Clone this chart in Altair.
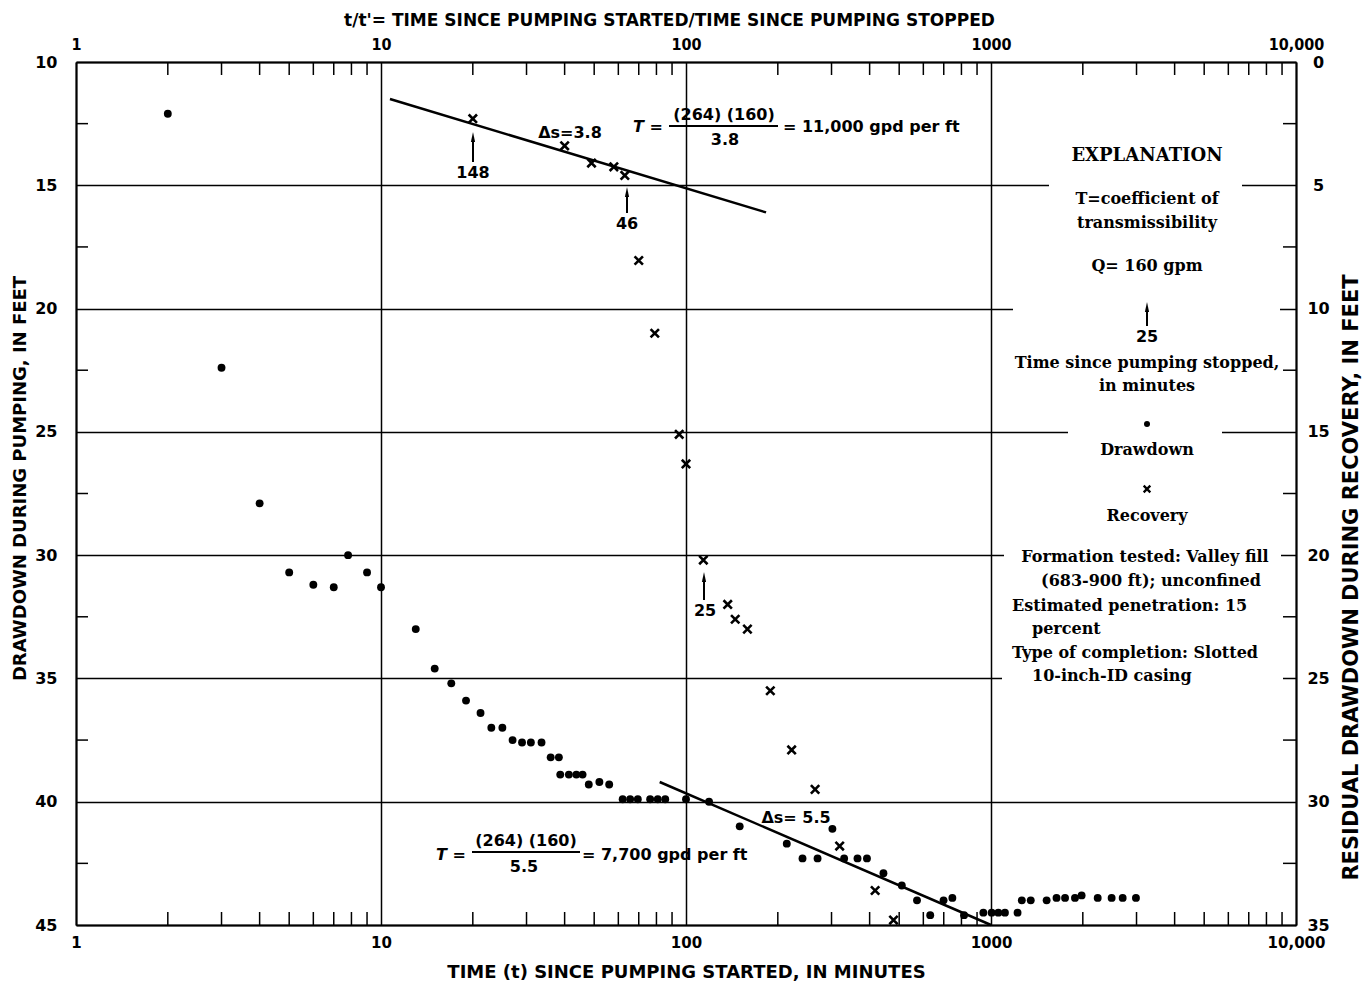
import altair as alt
import pandas as pd

# ---------------- values ----------------
# Drawdown during pumping: time since pumping started (minutes) / drawdown (feet)
dd_time = [2, 3, 4, 5, 6, 7, 7.8, 9, 10,
           13, 15, 17, 19, 21.2, 23, 25, 27, 29, 31, 33.6, 36, 38.3,
           38.7, 41.3, 43.7, 45.8, 48, 52, 56,
           62, 65.6, 69.5, 76.3, 80.8, 85.5, 100, 119, 150,
           214, 241, 270, 302, 330, 365, 392, 444, 510, 572, 632, 699, 747, 816,
           944, 1005, 1057, 1111, 1222, 1262, 1350, 1522, 1640, 1749, 1885, 1982,
           2238, 2486, 2702, 2987]
dd_feet = [12.1, 22.4, 27.9, 30.7, 31.2, 31.3, 30.0, 30.7, 31.3,
           33.0, 34.6, 35.2, 35.9, 36.4, 37.0, 37.0, 37.5, 37.6, 37.6, 37.6, 38.2, 38.2,
           38.9, 38.9, 38.9, 38.9, 39.3, 39.2, 39.3,
           39.9, 39.9, 39.9, 39.9, 39.9, 39.9, 39.9, 40.0, 41.0,
           41.7, 42.3, 42.3, 41.1, 42.3, 42.3, 42.3, 42.9, 43.4, 44.0, 44.6, 44.0, 43.9, 44.6,
           44.5, 44.5, 44.5, 44.5, 44.5, 44.0, 44.0, 44.0, 43.9, 43.9, 43.9, 43.8,
           43.9, 43.9, 43.9, 43.9]

# Recovery: t/t' and residual drawdown (feet)
rec_ratio = [20, 40, 49, 58, 63, 70, 79, 95, 100, 114, 137, 145, 159, 189, 222, 265, 319, 417, 479]
rec_feet = [2.3, 3.4, 4.1, 4.25, 4.6, 8.05, 11.0, 15.1, 16.3, 20.2, 22.0, 22.6, 23.0,
            25.5, 27.9, 29.5, 31.8, 33.6, 34.8]

# Straight-line fits drawn on the figure (end points)
fit_rec_ratio = [10.7, 183]
fit_rec_feet = [1.5, 6.1]
fit_dd_time = [82, 1000]
fit_dd_feet = [39.2, 45.0]

# Axis ticks
x_ticks = [1, 10, 100, 1000, 10000]
x_tick_labels = ["1", "10", "100", "1000", "10,000"]
x_minor = [m * 10 ** k for k in range(4) for m in range(2, 10)]
left_ticks = [10, 15, 20, 25, 30, 35, 40, 45]
left_minor = [12.5, 17.5, 22.5, 27.5, 32.5, 37.5, 42.5]
right_ticks = [0, 5, 10, 15, 20, 25, 30, 35]
right_minor = [2.5, 7.5, 12.5, 17.5, 22.5, 27.5, 32.5]

# ---------------- styling / layout ----------------
W, H = 1220, 863
SANS = "DejaVu Sans"
SANS_C = "DejaVu Sans Condensed, DejaVu Sans"
SERIF = "DejaVu Serif"
XPATH = "M-1,-1L1,1M-1,1L1,-1"
HEAD = "M0,-1L0.42,1L-0.42,1Z"

X_SCALE = alt.Scale(type="log", domain=[1, 10000], nice=False)
DD_SCALE = alt.Scale(domain=[10, 45], reverse=True, nice=False, zero=False)
RES_SCALE = alt.Scale(domain=[0, 35], reverse=True, nice=False, zero=False)

label_expr = "".join(f"datum.value == {v} ? '{l}' : " for v, l in zip(x_ticks, x_tick_labels)) + "''"

common_axis = dict(ticks=False, domainColor="black", domainWidth=2,
                   labelColor="black", labelFontWeight="bold", labelFlush=False,
                   labelOverlap=False, titleColor="black", titleFontWeight="bold")

ax_bottom = alt.Axis(orient="bottom", values=x_ticks, labelExpr=label_expr,
                     title="TIME (t) SINCE PUMPING STARTED, IN MINUTES",
                     grid=True, gridColor="black", gridWidth=1.5, gridOpacity=1,
                     labelFont=SANS, labelFontSize=15, labelPadding=17, labelBaseline="middle",
                     titleFont=SANS, titleFontSize=18, titleX=610, titleY=47,
                     titleBaseline="middle", titleAlign="center", **common_axis)
ax_top = alt.Axis(orient="top", values=x_ticks, labelExpr=label_expr,
                  title="t/t'= TIME SINCE PUMPING STARTED/TIME SINCE PUMPING STOPPED",
                  grid=False, labelFont=SANS_C, labelFontSize=16, labelPadding=18,
                  labelBaseline="middle", titleFont=SANS, titleFontSize=17,
                  titleX=593, titleY=-42, titleBaseline="middle", titleAlign="center", **common_axis)
ax_left = alt.Axis(orient="left", values=left_ticks, format="d",
                   title="DRAWDOWN DURING PUMPING, IN FEET",
                   grid=True, gridColor="black", gridWidth=1.5, gridOpacity=1,
                   labelFont=SANS, labelFontSize=16, labelPadding=19, labelBaseline="middle",
                   labelAlign="right", titleFont=SANS, titleFontSize=18, titleAngle=270,
                   titleX=-56, titleY=416, titleBaseline="middle", titleAlign="center", **common_axis)
ax_right = alt.Axis(orient="right", values=right_ticks, format="d",
                    title="RESIDUAL DRAWDOWN DURING RECOVERY, IN FEET",
                    grid=False, labelFont=SANS, labelFontSize=16, labelPadding=22,
                    labelBaseline="middle", labelAlign="center",
                    titleFont=SANS, titleFontSize=21, titleAngle=270,
                    titleX=55, titleY=515, titleBaseline="middle", titleAlign="center", **common_axis)

# ---------------- data tables ----------------
dd_df = pd.DataFrame({"t": dd_time, "d": dd_feet})
rec_df = pd.DataFrame({"ratio": rec_ratio, "r": rec_feet})
fit_dd_df = pd.DataFrame({"t": fit_dd_time, "d": fit_dd_feet})
fit_rec_df = pd.DataFrame({"ratio": fit_rec_ratio, "r": fit_rec_feet})
xminor_df = pd.DataFrame({"t": x_minor})
lminor_df = pd.DataFrame({"d": left_minor})
rminor_df = pd.DataFrame({"r": right_minor})

# annotation placement (pixels inside the plot area)
ann_sans_center = pd.DataFrame([
    ("\u0394s=3.8", 494, 71),
    ("(264) (160)", 648, 53),
    ("3.8", 649, 78),
    ("148", 397, 111),
    ("46", 551, 162),
    ("25", 629, 549),
    ("\u0394s= 5.5", 720, 756),
    ("(264) (160)", 450, 779),
    ("5.5", 448, 805),
    ("25", 1071, 275),
], columns=["text", "px", "py"])
ann_sans_left = pd.DataFrame([
    ("= 11,000 gpd per ft", 707, 65),
    ("= 7,700 gpd per ft", 506, 793),
], columns=["text", "px", "py"])
ann_sans_italic = pd.DataFrame([
    ("T =", 572, 65),
    ("T =", 375, 793),
], columns=["text", "px", "py"])
expl_title = pd.DataFrame([("EXPLANATION", 1071, 94)], columns=["text", "px", "py"])
expl_center = pd.DataFrame([
    ("T=coefficient of", 1071, 137),
    ("transmissibility", 1071, 161),
    ("Q= 160 gpm", 1071, 204),
    ("Time since pumping stopped,", 1071, 301),
    ("in minutes", 1071, 324),
    ("Drawdown", 1071, 388),
    ("Recovery", 1071, 454),
    ("Formation tested:  Valley fill", 1069, 495),
    ("(683-900 ft);  unconfined", 1075, 519),
], columns=["text", "px", "py"])
expl_left = pd.DataFrame([
    ("Estimated penetration:  15", 936, 544),
    ("percent", 956, 567),
    ("Type of completion:  Slotted", 936, 591),
    ("10-inch-ID casing", 956, 614),
], columns=["text", "px", "py"])
masks = pd.DataFrame([
    (973, 1166, 113, 133),
    (937, 1204, 236, 256),
    (992, 1146, 360, 380),
    (928, 1205, 483, 503),
    (926, 1207, 606, 626),
], columns=["px", "px2", "py", "py2"])
rules = pd.DataFrame([
    (593, 702, 64, 64),
    (396, 504, 790, 790),
    (397, 397, 100, 75),
    (551, 551, 151, 130),
    (628, 628, 538, 515),
    (1071, 1071, 264, 245),
], columns=["px", "px2", "py", "py2"])
heads = pd.DataFrame([(397, 75), (551, 130), (628, 515), (1071, 245)], columns=["px", "py"])
key_dot = pd.DataFrame([(1071, 362)], columns=["px", "py"])
key_x = pd.DataFrame([(1071, 427)], columns=["px", "py"])

PX = alt.X("px:Q", scale=None, axis=None)
PY = alt.Y("py:Q", scale=None, axis=None)


def text_layer(df, font, size, align="center", style="normal"):
    return alt.Chart(df).mark_text(font=font, fontSize=size, align=align, baseline="middle",
                                   fontWeight="bold", fontStyle=style, color="black").encode(
        x=PX, y=PY, text="text:N")


# ---------------- axis-carrying layers ----------------
dd_points = alt.Chart(dd_df).mark_circle(size=62, color="black", opacity=1).encode(
    x=alt.X("t:Q", scale=X_SCALE, axis=ax_bottom),
    y=alt.Y("d:Q", scale=DD_SCALE, axis=ax_left))
rec_points = alt.Chart(rec_df).mark_point(shape=XPATH, size=70, filled=False, color="black",
                                          strokeWidth=2.6, opacity=1).encode(
    x=alt.X("ratio:Q", scale=X_SCALE, axis=ax_top),
    y=alt.Y("r:Q", scale=RES_SCALE, axis=ax_right))

# ---------------- other layers ----------------
dd_line = alt.Chart(fit_dd_df).mark_line(color="black", strokeWidth=2.5).encode(
    x=alt.X("t:Q", scale=X_SCALE, axis=None),
    y=alt.Y("d:Q", scale=DD_SCALE, axis=None))
rec_line = alt.Chart(fit_rec_df).mark_line(color="black", strokeWidth=2.5).encode(
    x=alt.X("ratio:Q", scale=X_SCALE, axis=None),
    y=alt.Y("r:Q", scale=RES_SCALE, axis=None))
bottom_minor = alt.Chart(xminor_df).mark_rule(color="black", strokeWidth=1.5).encode(
    x=alt.X("t:Q", scale=X_SCALE, axis=None), y=alt.value(H), y2=alt.value(H - 13))
top_minor = alt.Chart(xminor_df).mark_rule(color="black", strokeWidth=1.5).encode(
    x=alt.X("t:Q", scale=X_SCALE, axis=None), y=alt.value(0), y2=alt.value(13))
left_minor_l = alt.Chart(lminor_df).mark_rule(color="black", strokeWidth=1.5).encode(
    y=alt.Y("d:Q", scale=DD_SCALE, axis=None), x=alt.value(0), x2=alt.value(12))
right_minor_l = alt.Chart(rminor_df).mark_rule(color="black", strokeWidth=1.5).encode(
    y=alt.Y("r:Q", scale=RES_SCALE, axis=None), x=alt.value(W), x2=alt.value(W - 13))

mask_layer = alt.Chart(masks).mark_rect(color="white", opacity=1).encode(
    x=PX, x2="px2:Q", y=PY, y2="py2:Q")
rule_layer = alt.Chart(rules).mark_rule(color="black", strokeWidth=2).encode(
    x=PX, x2="px2:Q", y=PY, y2="py2:Q")
head_layer = alt.Chart(heads).mark_point(shape=HEAD, size=100, filled=True, color="black",
                                         opacity=1).encode(x=PX, y=PY)
key_dot_layer = alt.Chart(key_dot).mark_circle(size=36, color="black", opacity=1).encode(x=PX, y=PY)
key_x_layer = alt.Chart(key_x).mark_point(shape=XPATH, size=44, filled=False, color="black",
                                          strokeWidth=2.3, opacity=1).encode(x=PX, y=PY)

chart = (
    alt.layer(
        dd_points, rec_points, dd_line, rec_line,
        bottom_minor, top_minor, left_minor_l, right_minor_l,
        mask_layer, rule_layer, head_layer,
        text_layer(ann_sans_center, SANS, 16),
        text_layer(ann_sans_left, SANS, 16, align="left"),
        text_layer(ann_sans_italic, SANS, 16, style="italic"),
        text_layer(expl_title, SERIF, 18),
        text_layer(expl_center, SERIF, 16),
        text_layer(expl_left, SERIF, 16, align="left"),
        key_dot_layer, key_x_layer,
    )
    .resolve_scale(y="independent")
    .resolve_axis(x="independent", y="independent")
    .properties(width=W, height=H,
                autosize=alt.AutoSizeParams(type="none"),
                padding={"left": 68, "top": 54, "right": 68, "bottom": 58},
                background="white")
    .configure_view(stroke=None)
)

chart.save("out.html", embed_options={"renderer": "svg", "actions": False})
